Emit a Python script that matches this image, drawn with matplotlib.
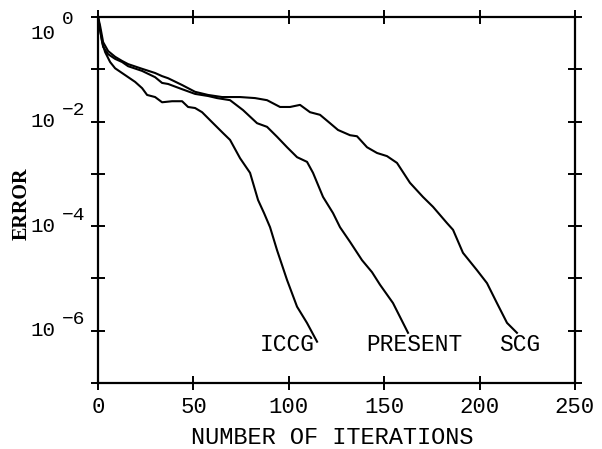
import matplotlib
matplotlib.use("Agg")
import matplotlib.pyplot as plt

plt.rcParams['font.family'] = ['Liberation Mono', 'DejaVu Sans']

# ICCG
iccg_x = [0, 1.05, 2.1, 3.67, 6.29, 8.91, 14.15, 19.39, 23.06, 25.68, 29.87, 33.54, 38.78,
          44.03, 47.17, 50.84, 54.51, 60.27, 65.51, 69.18, 74.42, 79.66, 83.86, 87.0,
          90.15, 93.82, 99.06, 104.3, 109.5, 114.8]
iccg_logy = [-0.02, -0.25, -0.48, -0.67, -0.86, -0.98, -1.11, -1.24, -1.36, -1.49, -1.53,
             -1.63, -1.61, -1.61, -1.72, -1.74, -1.82, -2.03, -2.22, -2.35, -2.70, -2.98,
             -3.50, -3.75, -4.02, -4.46, -5.03, -5.54, -5.85, -6.21]

# PRESENT
present_x = [0, 1.05, 2.62, 5.24, 8.91, 12.58, 15.72, 23.06, 29.87, 33.54, 36.69, 44.03,
             50.84, 57.65, 62.37, 69.18, 75.99, 83.33, 88.57, 93.82, 99.06, 104.3, 109.54,
             112.68, 117.92, 123.17, 126.83, 132.08, 138.36, 143.61, 147.8, 154.6, 162.5]
present_logy = [-0.02, -0.25, -0.57, -0.71, -0.80, -0.86, -0.94, -1.03, -1.15, -1.26, -1.28,
                -1.38, -1.47, -1.51, -1.55, -1.59, -1.78, -2.03, -2.10, -2.29, -2.49, -2.68,
                -2.77, -2.98, -3.44, -3.75, -4.02, -4.30, -4.65, -4.88, -5.12, -5.47, -6.04]

# SCG
scg_x = [0, 1.05, 2.62, 5.24, 8.91, 12.58, 15.72, 23.06, 29.87, 33.54, 36.69, 44.03,
         50.84, 57.65, 64.99, 74.42, 82.29, 88.57, 95.39, 100.63, 105.87, 111.11, 116.35,
         121.59, 125.79, 132.08, 135.74, 140.99, 146.23, 151.47, 156.71, 163.5, 170.3,
         175.6, 182.9, 186.1, 191.3, 198.6, 203.9, 209.1, 214.4, 219.6]
scg_logy = [0.0, -0.17, -0.48, -0.65, -0.76, -0.84, -0.90, -0.99, -1.07, -1.13, -1.17,
            -1.30, -1.43, -1.49, -1.53, -1.53, -1.55, -1.59, -1.72, -1.72, -1.68, -1.82,
            -1.87, -2.03, -2.16, -2.26, -2.28, -2.49, -2.60, -2.66, -2.79, -3.17, -3.44,
            -3.63, -3.94, -4.07, -4.51, -4.84, -5.09, -5.47, -5.85, -6.04]

series_labels = ["ICCG", "PRESENT", "SCG"]
label_x = [99, 165.6, 221]
label_logy = -6.27

x_ticks = [0, 50, 100, 150, 200, 250]
y_exps = [0, -2, -4, -6]

fig = plt.figure(figsize=(6.02, 4.49), dpi=100)
ax = fig.add_axes([0.163, 0.147, 0.792, 0.815])

for xs, ly in [(iccg_x, iccg_logy), (present_x, present_logy), (scg_x, scg_logy)]:
    ax.plot(xs, [10 ** v for v in ly], color='black', lw=1.5, solid_joinstyle='round')

ax.set_yscale('log')
ax.set_xlim(0, 250)
ax.set_ylim(1e-7, 1)

for name, lx in zip(series_labels, label_x):
    ax.text(lx, 10 ** label_logy, name, ha='center', va='center', fontsize=16.5)

ax.set_xticks(x_ticks)
ax.set_xticklabels([str(v) for v in x_ticks], fontsize=16)
ax.set_yticks([10.0 ** e for e in range(0, -8, -1)])
ax.set_yticklabels([])
ax.minorticks_off()
ax.tick_params(axis='both', direction='inout', length=9.5, width=1.4,
               top=True, right=True, labeltop=False, labelright=False)
ax.tick_params(axis='x', pad=5)
for s in ax.spines.values():
    s.set_linewidth(1.6)

# y tick labels: "10" with raised exponent
for e in y_exps:
    base_dy = -11.5 if e == 0 else 0
    exp_dy = -1.5 if e == 0 else 8
    ax.annotate("10", xy=(0, 10.0 ** e), xycoords=('axes fraction', 'data'),
                xytext=(-30.5, base_dy), textcoords='offset points',
                ha='right', va='center', fontsize=15)
    ax.annotate(str(e).replace('-', '\u2212'), xy=(0, 10.0 ** e),
                xycoords=('axes fraction', 'data'),
                xytext=(-26, exp_dy), textcoords='offset points',
                ha='left', va='center', fontsize=14)

ax.set_xlabel("NUMBER OF ITERATIONS", fontsize=17, va='center')
ax.xaxis.set_label_coords(0.49, -0.148)
ax.set_ylabel("ERROR", fontsize=14.5, family='Liberation Serif', fontweight='bold',
              va='center')
ax.yaxis.set_label_coords(-0.161, 0.49)

fig.savefig("out.png", dpi=100)
